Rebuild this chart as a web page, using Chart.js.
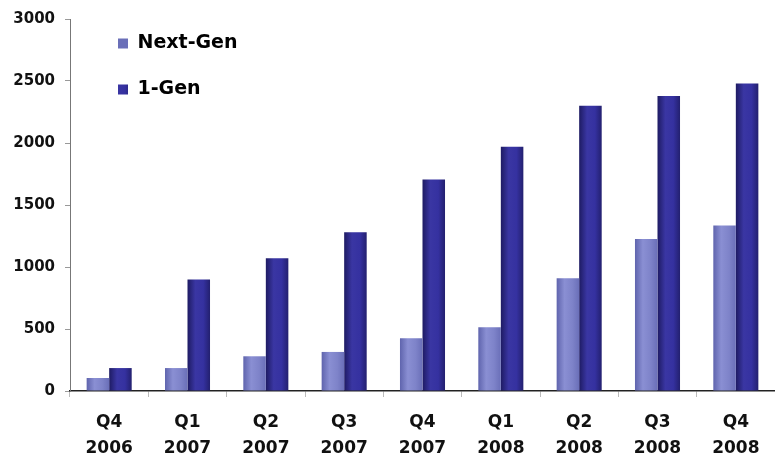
<!DOCTYPE html>
<html>
<head>
<meta charset="utf-8">
<script src="https://cdn.jsdelivr.net/npm/chart.js@4/dist/chart.umd.min.js"></script>
<style>
html,body{margin:0;padding:0;background:#fff;}
#wrap{width:775px;height:461px;}
</style>
</head>
<body>
<div id="wrap"><canvas id="c" width="775" height="461"></canvas></div>
<script>
const categories = [["Q4","2006"],["Q1","2007"],["Q2","2007"],["Q3","2007"],["Q4","2007"],["Q1","2008"],["Q2","2008"],["Q3","2008"],["Q4","2008"]];
const nextGen = [105, 185, 280, 315, 425, 515, 910, 1225, 1335];
const oneGen = [185, 900, 1070, 1280, 1705, 1970, 2300, 2380, 2480];
const seriesNames = ["Next-Gen", "1-Gen"];
const yTicks = [0, 500, 1000, 1500, 2000, 2500, 3000];

const CAT_PCT = 0.575;
const palettes = [
  {solid:'#777cc4', stops:['#5f64ad','#8a8fd3','#7e83c9','#6a6fb8']},
  {solid:'#2e2a8e', stops:['#1e1b63','#3a36a3','#3531a0','#23206f']}
];

function barFill(ctx) {
  const chart = ctx.chart;
  const pal = palettes[ctx.datasetIndex];
  const area = chart.chartArea;
  const xs = chart.scales.x;
  if (!area || !xs || ctx.dataIndex === undefined) return pal.solid;
  const catW = (area.right - area.left) / categories.length;
  const barW = catW * CAT_PCT / 2;
  const center = xs.getPixelForValue(ctx.dataIndex);
  const left = center - barW + ctx.datasetIndex * barW;
  const g = chart.ctx.createLinearGradient(left, 0, left + barW, 0);
  g.addColorStop(0, pal.stops[0]);
  g.addColorStop(0.35, pal.stops[1]);
  g.addColorStop(0.7, pal.stops[2]);
  g.addColorStop(1, pal.stops[3]);
  return g;
}

const legendShift = {
  id: 'legendShift',
  afterLayout(chart) {
    const lg = chart.legend;
    if (!lg) return;
    lg.left = chart.chartArea.left + 21;
    lg.top = chart.chartArea.top - 12;
  }
};

new Chart(document.getElementById('c'), {
  type: 'bar',
  data: {
    labels: categories,
    datasets: [
      {label: seriesNames[0], data: nextGen, backgroundColor: barFill, borderWidth: 0},
      {label: seriesNames[1], data: oneGen, backgroundColor: barFill, borderWidth: 0}
    ]
  },
  plugins: [legendShift],
  options: {
    responsive: false,
    animation: false,
    devicePixelRatio: 1,
    layout: {padding: {top: 18, right: 0, bottom: 0, left: 0}},
    datasets: {bar: {barPercentage: 1, categoryPercentage: CAT_PCT}},
    plugins: {
      tooltip: {enabled: false},
      legend: {
        position: 'chartArea',
        align: 'start',
        labels: {
          boxWidth: 10,
          boxHeight: 10,
          padding: 27,
          color: '#000',
          font: {family: 'DejaVu Sans', size: 19, weight: 'bold', lineHeight: 1.2}
        }
      }
    },
    scales: {
      x: {
        afterFit: s => { s.height = 70; },
        grid: {display: true, drawOnChartArea: false, offset: true, tickLength: 6, color: '#bbbbbb'},
        border: {display: true, color: '#222222', width: 1.5},
        ticks: {
          color: '#111',
          padding: 13,
          maxRotation: 0,
          autoSkip: false,
          font: {family: 'DejaVu Sans', size: 17, weight: 'bold', lineHeight: 1.53}
        }
      },
      y: {
        min: 0,
        max: 3000,
        afterFit: s => { s.width = 70; },
        afterBuildTicks: s => { s.ticks = yTicks.map(v => ({value: v})); },
        grid: {display: true, drawOnChartArea: false, tickLength: 5, color: '#999999'},
        border: {display: true, color: '#777777', width: 1},
        ticks: {
          color: '#111',
          padding: 10,
          callback: v => String(v),
          font: {family: 'DejaVu Sans', size: 15, weight: 'bold'}
        }
      }
    }
  }
});
</script>
</body>
</html>
